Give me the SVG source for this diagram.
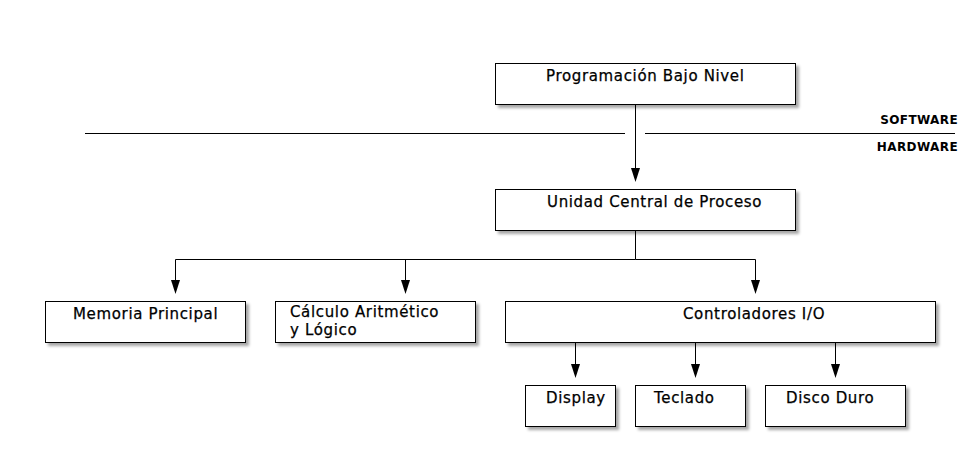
<svg xmlns="http://www.w3.org/2000/svg" width="980" height="462" viewBox="0 0 980 462">
<defs>
<filter id="sh" x="-10%" y="-20%" width="130%" height="160%">
<feDropShadow dx="3" dy="3" stdDeviation="1.5" flood-color="#000" flood-opacity="0.35"/>
</filter>
<style>
.box{fill:#fff;stroke:#000;stroke-width:1;filter:url(#sh)}
.lbl{font-family:"DejaVu Sans",sans-serif;font-size:15px;letter-spacing:0.65px;fill:#000;stroke:#000;stroke-width:0.25px}
.sm{font-family:"DejaVu Sans",sans-serif;font-size:12px;font-weight:bold;letter-spacing:0.4px;fill:#000}
.ln{fill:none;stroke:#000;stroke-width:1}
</style>
</defs>
<rect width="980" height="462" fill="#fff"/>
<g id="separator">
<line class="ln" x1="85" y1="133.5" x2="625" y2="133.5"/>
<line class="ln" x1="645" y1="133.5" x2="955" y2="133.5"/>
<text class="sm" x="958" y="124" text-anchor="end">SOFTWARE</text>
<text class="sm" x="958" y="151" text-anchor="end">HARDWARE</text>
</g>
<g id="connectors">
<path class="ln" d="M635.5,105 V168"/>
<path d="M631,168 L640,168 L635.5,182 Z"/>
<path class="ln" d="M635.5,231 V259.5 H175.5 V280"/>
<path class="ln" d="M405.5,259.5 V280"/>
<path class="ln" d="M635.5,259.5 H755.5 V280"/>
<path d="M171,280 L180,280 L175.5,294 Z"/>
<path d="M401,280 L410,280 L405.5,294 Z"/>
<path d="M751,280 L760,280 L755.5,294 Z"/>
<path class="ln" d="M575.5,343 V364"/>
<path class="ln" d="M695.5,343 V364"/>
<path class="ln" d="M835.5,343 V364"/>
<path d="M571,364 L580,364 L575.5,378 Z"/>
<path d="M691,364 L700,364 L695.5,378 Z"/>
<path d="M831,364 L840,364 L835.5,378 Z"/>
</g>
<g id="programacion">
<rect class="box" x="495.5" y="63.5" width="300" height="41"/>
<text class="lbl" x="546" y="81">Programación Bajo Nivel</text>
</g>
<g id="ucp">
<rect class="box" x="495.5" y="189.5" width="300" height="41"/>
<text class="lbl" x="547" y="207">Unidad Central de Proceso</text>
</g>
<g id="memoria">
<rect class="box" x="45.5" y="301.5" width="200" height="41"/>
<text class="lbl" x="73" y="319">Memoria Principal</text>
</g>
<g id="calculo">
<rect class="box" x="275.5" y="301.5" width="200" height="41"/>
<text class="lbl" x="290" y="317">Cálculo Aritmético</text>
<text class="lbl" x="290" y="335">y Lógico</text>
</g>
<g id="controladores">
<rect class="box" x="505.5" y="301.5" width="430" height="41"/>
<text class="lbl" x="683" y="319">Controladores I/O</text>
</g>
<g id="display">
<rect class="box" x="525.5" y="385.5" width="90" height="41"/>
<text class="lbl" x="546" y="403">Display</text>
</g>
<g id="teclado">
<rect class="box" x="635.5" y="385.5" width="110" height="41"/>
<text class="lbl" x="654" y="403">Teclado</text>
</g>
<g id="disco">
<rect class="box" x="765.5" y="385.5" width="140" height="41"/>
<text class="lbl" x="786" y="403">Disco Duro</text>
</g>
</svg>
